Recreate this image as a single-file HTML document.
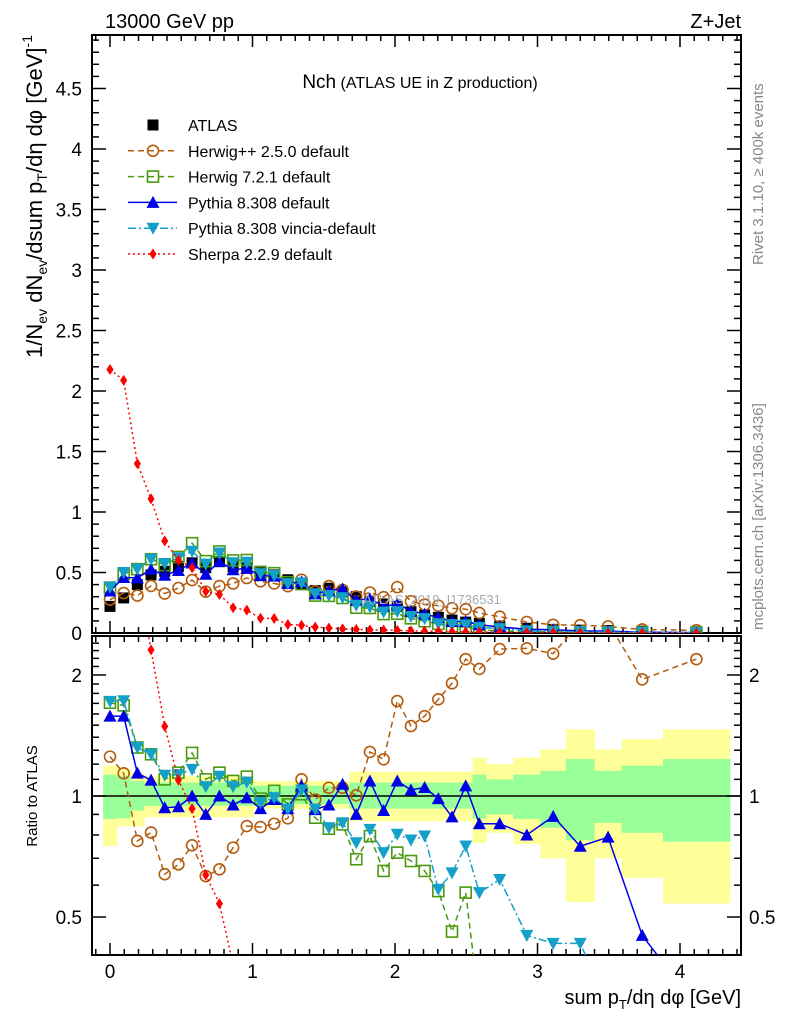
<!DOCTYPE html>
<html><head><meta charset="utf-8"><style>
html,body{margin:0;padding:0;background:#fff;overflow:hidden;width:786px;height:1024px}
svg{display:block;position:absolute;left:0;top:0;overflow:hidden;font-family:"Liberation Sans",sans-serif}
</style></head><body>
<svg id="chart" width="786" height="1024" viewBox="0 0 786 1024" xmlns="http://www.w3.org/2000/svg">
<defs>
<clipPath id="cm"><rect x="92" y="35" width="649" height="598"/></clipPath>
<clipPath id="cr"><rect x="92" y="636" width="649" height="319"/></clipPath>
</defs>
<g id="bands" clip-path="url(#cr)"></g>
<g id="axes"></g>
<g id="mainMarks" clip-path="url(#cm)"></g>
<g id="ratioMarks" clip-path="url(#cr)"></g>
<text x="105" y="28" font-size="20">13000 GeV pp</text>
<text x="741" y="28" font-size="20" text-anchor="end">Z+Jet</text>
<text x="420" y="88" text-anchor="middle"><tspan font-size="19">Nch</tspan><tspan font-size="16"> (ATLAS UE in Z production)</tspan></text>
<text x="432" y="604" text-anchor="middle" font-size="13" fill="#aaa">ATLAS_2019_I1736531</text>
<text transform="translate(763,265) rotate(-90)" font-size="15" fill="#888">Rivet 3.1.10, ≥ 400k events</text>
<text transform="translate(763,630) rotate(-90)" font-size="15" fill="#888">mcplots.cern.ch [arXiv:1306.3436]</text>
<text transform="translate(42,35) rotate(-90)" font-size="22" text-anchor="end">1/N<tspan font-size="14" dy="5">ev</tspan><tspan dy="-5"> dN</tspan><tspan font-size="14" dy="5">ev</tspan><tspan dy="-5">/dsum p</tspan><tspan font-size="14" dy="5">T</tspan><tspan dy="-5">/dη dφ  [GeV]</tspan><tspan font-size="14" dy="-10">-1</tspan></text>
<text transform="translate(37,796) rotate(-90)" font-size="15" text-anchor="middle">Ratio to ATLAS</text>
<text x="741" y="1004" font-size="20" text-anchor="end">sum p<tspan font-size="13" dy="5">T</tspan><tspan dy="-5">/dη dφ [GeV]</tspan></text>
<g id="legend"></g>
</svg>
<script>
const xEdges=[-0.048,0.048,0.144,0.24,0.336,0.432,0.528,0.624,0.72,0.816,0.912,1.008,1.104,1.2,1.296,1.392,1.488,1.584,1.68,1.776,1.872,1.968,2.064,2.16,2.256,2.352,2.448,2.544,2.64,2.83,3.02,3.20,3.40,3.59,3.88,4.35];
const atlas=[0.22,0.29,0.40,0.48,0.51,0.55,0.58,0.54,0.59,0.55,0.54,0.51,0.48,0.44,0.40,0.35,0.37,0.34,0.30,0.26,0.24,0.22,0.176,0.149,0.13,0.107,0.09,0.08,0.058,0.039,0.03,0.024,0.02,0.015,0.01];
const herwigpp=[1.253,1.139,0.773,0.811,0.639,0.676,0.754,0.632,0.657,0.744,0.842,0.837,0.853,0.88,1.1,0.98,1.048,1.048,1.004,1.287,1.234,1.723,1.493,1.58,1.74,1.907,2.19,2.07,2.32,2.33,2.26,2.7,2.7,1.95,2.19];
const herwig7=[1.706,1.68,1.32,1.27,1.1,1.143,1.28,1.1,1.143,1.09,1.117,0.985,1.03,0.953,1.01,0.883,0.829,0.85,0.696,0.795,0.651,0.723,0.689,0.651,0.58,0.46,0.575,0.3,0.3,0.3,0.3,0.3,0.3,0.3,0.3];
const pythia=[1.58,1.58,1.14,1.095,0.935,0.94,1.0,0.9,1.0,0.95,0.99,0.93,0.98,0.93,1.06,0.925,0.95,1.07,0.9,1.09,0.92,1.09,1.035,1.05,0.985,0.887,1.06,0.853,0.853,0.8,0.89,0.75,0.79,0.45,0.3];
const vincia=[1.72,1.725,1.32,1.27,1.126,1.13,1.165,1.055,1.12,1.055,1.083,0.963,0.99,0.927,1.035,0.927,0.834,0.858,0.765,0.826,0.723,0.803,0.777,0.795,0.586,0.644,0.751,0.575,0.62,0.45,0.43,0.43,0.3,0.3,0.3];
const sherpa=[9.9,7.2,3.5,2.31,1.49,1.095,0.93,0.636,0.54,0.38,0.35,0.24,0.25,0.16,0.16,0.14,0.11,0.1,0.1,0.1,0.1,0.1,0.1,0.1,0.1,0.1,0.1,0.1,0.1,0.1,0.1,0.1,0.1,0.1,0.1];
const greenUp=[1.13,1.12,1.09,1.08,1.08,1.08,1.08,1.08,1.08,1.08,1.08,1.06,1.06,1.06,1.06,1.06,1.06,1.06,1.08,1.08,1.08,1.08,1.08,1.08,1.08,1.08,1.08,1.13,1.1,1.13,1.155,1.236,1.155,1.19,1.236];
const greenDn=[0.877,0.88,0.92,0.945,0.945,0.945,0.945,0.945,0.945,0.945,0.945,0.955,0.955,0.955,0.955,0.955,0.955,0.955,0.93,0.93,0.93,0.93,0.93,0.93,0.93,0.93,0.93,0.878,0.9,0.877,0.834,0.776,0.857,0.81,0.77];
const yellowUp=[1.19,1.17,1.14,1.12,1.12,1.12,1.12,1.12,1.12,1.12,1.12,1.09,1.09,1.09,1.09,1.09,1.09,1.09,1.15,1.15,1.15,1.15,1.15,1.15,1.15,1.15,1.15,1.245,1.2,1.245,1.306,1.465,1.306,1.384,1.465];
const yellowDn=[0.75,0.84,0.84,0.885,0.885,0.885,0.885,0.885,0.885,0.885,0.885,0.93,0.93,0.93,0.93,0.93,0.93,0.93,0.865,0.865,0.865,0.865,0.865,0.865,0.865,0.865,0.865,0.764,0.81,0.76,0.70,0.545,0.70,0.626,0.54];
const xTicks=[0,1,2,3,4];
const yTicks=[0,0.5,1,1.5,2,2.5,3,3.5,4,4.5];
const rTicks=[0.5,1,2];

const NS="http://www.w3.org/2000/svg";
const X=v=>110+142.5*v, Y=v=>633-121*v, R=r=>796-402*Math.log10(r);
function mk(tag,parent,at){const e=document.createElementNS(NS,tag);for(const k in at)e.setAttribute(k,at[k]);parent.appendChild(e);return e;}
const centers=atlas.map((_,i)=>(xEdges[i]+xEdges[i+1])/2);
const axes=document.getElementById('axes'),bands=document.getElementById('bands');
for(let i=0;i<atlas.length;i++){
 const x0=X(xEdges[i]),w=X(xEdges[i+1])-x0;
 let e=mk('rect',bands,{x:x0,y:R(yellowUp[i]),width:w+0.5,height:R(yellowDn[i])-R(yellowUp[i]),fill:'#ffff99'});
 
 
 e=mk('rect',bands,{x:x0,y:R(greenUp[i]),width:w+0.5,height:R(greenDn[i])-R(greenUp[i]),fill:'#99ff99'});
 
 
}
let f=mk('rect',axes,{x:92,y:35,width:649,height:598,fill:'none',stroke:'#000','stroke-width':2});


f=mk('rect',axes,{x:92,y:636,width:649,height:319,fill:'none',stroke:'#000','stroke-width':2});


f=mk('line',axes,{x1:92,x2:741,y1:R(1),y2:R(1),stroke:'#000','stroke-width':1.5});


for(let v=-0.1;v<=4.41;v+=0.1){const vv=Math.round(v*10)/10,major=Math.abs(vv-Math.round(vv))<1e-6,L=major?12:6,x=X(vv);
 for(const [yb,d] of [[633,-1],[35,1],[955,-1],[636,1]]) mk('line',axes,{x1:x,x2:x,y1:yb,y2:yb+d*L,stroke:'#000','stroke-width':1.5});}
xTicks.forEach(v=>{const t=mk('text',axes,{x:X(v),y:978,'font-size':19,'text-anchor':'middle'});t.textContent=v;
 
 });
for(let i=0;i<=49;i++){const v=i/10,major=i%5==0,L=major?14:7,y=Y(v);
 mk('line',axes,{x1:92,x2:92+L,y1:y,y2:y,stroke:'#000','stroke-width':1.5});
 mk('line',axes,{x1:741,x2:741-L,y1:y,y2:y,stroke:'#000','stroke-width':1.5});}
yTicks.forEach(v=>{const t=mk('text',axes,{x:82,y:Y(v)+7,'font-size':19,'text-anchor':'end'});t.textContent=v;
 
 });
[0.5,0.6,0.7,0.8,0.9,1,1.1,1.2,1.3,1.4,1.5,1.6,1.7,1.8,1.9,2,2.1,2.2,2.3,2.4].forEach(r=>{const major=rTicks.includes(r),L=major?14:7,y=R(r);
 mk('line',axes,{x1:92,x2:92+L,y1:y,y2:y,stroke:'#000','stroke-width':1.5});
 mk('line',axes,{x1:741,x2:741-L,y1:y,y2:y,stroke:'#000','stroke-width':1.5});});
rTicks.forEach(r=>{let t=mk('text',axes,{x:82,y:R(r)+7,'font-size':19,'text-anchor':'end'});t.textContent=r;
 
 
 t=mk('text',axes,{x:749,y:R(r)+7,'font-size':19});t.textContent=r;
 
 });
function marker(g,type,x,y,c,s){
 s=s||5.5;let e;
 if(type=='sq') e=mk('rect',g,{x:x-s,y:y-s,width:2*s,height:2*s,fill:'#000'});
 else if(type=='circ') e=mk('circle',g,{cx:x,cy:y,r:s,fill:'none',stroke:c,'stroke-width':1.6});
 else if(type=='osq') e=mk('rect',g,{x:x-s,y:y-s,width:2*s,height:2*s,fill:'none',stroke:c,'stroke-width':1.6});
 else if(type=='up') e=mk('polygon',g,{points:`${x},${y-s-1} ${x-s-1},${y+s} ${x+s+1},${y+s}`,fill:c});
 else if(type=='dn') e=mk('polygon',g,{points:`${x},${y+s+1} ${x-s-1},${y-s} ${x+s+1},${y-s}`,fill:c});
 else if(type=='dia') e=mk('polygon',g,{points:`${x},${y-s} ${x-s*0.65},${y} ${x},${y+s} ${x+s*0.65},${y}`,fill:c});
 
 
}
const series=[
 {name:'herwigpp',arr:herwigpp,c:'#b35c0e',type:'circ',dash:'6,4'},
 {name:'herwig7',arr:herwig7,c:'#4a9a10',type:'osq',dash:'6,4'},
 {name:'pythia',arr:pythia,c:'#0000e6',type:'up',dash:''},
 {name:'vincia',arr:vincia,c:'#14a0c8',type:'dn',dash:'8,3,2,3'},
 {name:'sherpa',arr:sherpa,c:'#ff0000',type:'dia',dash:'2,3'}];
const mg=document.getElementById('mainMarks'),rg=document.getElementById('ratioMarks');
atlas.forEach((v,i)=>marker(mg,'sq',X(centers[i]),Y(v),'#000',5.5));
series.forEach(s=>{
 const g1=mk('g',mg,{});
 const g2=mk('g',rg,{});
 const pm=s.arr.map((r,i)=>X(centers[i])+','+Y(r*atlas[i])).join(' ');
 const pr=s.arr.map((r,i)=>X(centers[i])+','+R(r)).join(' ');
 let l=mk('polyline',g1,{points:pm,fill:'none',stroke:s.c,'stroke-width':1.5,'stroke-dasharray':s.dash});
 
 
 l=mk('polyline',g2,{points:pr,fill:'none',stroke:s.c,'stroke-width':1.5,'stroke-dasharray':s.dash});
 
 
 s.arr.forEach((r,i)=>{marker(g1,s.type,X(centers[i]),Y(r*atlas[i]),s.c);marker(g2,s.type,X(centers[i]),R(r),s.c);});
});
const lg=document.getElementById('legend');
const labels=['ATLAS','Herwig++ 2.5.0 default','Herwig 7.2.1 default','Pythia 8.308 default','Pythia 8.308 vincia-default','Sherpa 2.2.9 default'];
labels.forEach((lab,i)=>{const y=125+i*25.8;
 const g=mk('g',lg,{});
 if(i==0) marker(g,'sq',153,y,'#000',5.5);
 else {const s=series[i-1];mk('line',g,{x1:128,x2:177,y1:y,y2:y,stroke:s.c,'stroke-width':1.5,'stroke-dasharray':s.dash});marker(g,s.type,153,y,s.c);}
 const t=mk('text',g,{x:188,y:y+6,'font-size':16});t.textContent=lab;});
</script>
</body></html>
